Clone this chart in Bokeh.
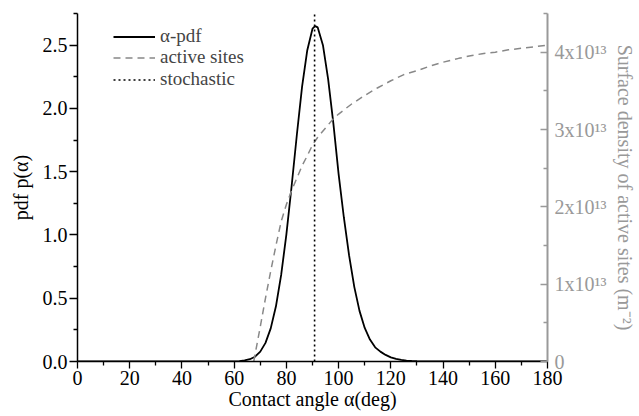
from bokeh.plotting import figure
from bokeh.models import Range1d, LinearAxis, FixedTicker, Legend, LegendItem
from bokeh.embed import file_html
from bokeh.resources import INLINE

# ---- data ----
# contact angle (deg) and alpha-pdf p(alpha)
angle_pdf = [0, 58, 60, 62, 64, 66, 68, 70, 72, 74, 76, 78, 80, 82, 84, 86, 88, 90, 91,
             92, 94, 96, 98, 100, 102, 104, 106, 108, 110, 112, 114, 116, 118, 120,
             122, 124, 126, 128, 130, 134, 140, 180]
pdf = [0, 0, 0.001, 0.003, 0.008, 0.018, 0.038, 0.078, 0.147, 0.262, 0.436, 0.684,
       1.005, 1.385, 1.79, 2.17, 2.46, 2.63, 2.65,
       2.64, 2.50, 2.23, 1.88, 1.48, 1.14, 0.84, 0.59, 0.40, 0.265, 0.173, 0.112,
       0.078, 0.052, 0.033, 0.020, 0.012, 0.007, 0.004, 0.002, 0.0006, 0, 0]

# contact angle (deg) and surface density of active sites (x 1e13 m^-2)
angle_sites = [67.5, 70, 72, 74, 76, 78, 80, 82, 84, 86, 88, 90, 92, 95, 98, 100,
               105, 110, 115, 120, 125, 130, 135, 140, 146, 150, 155, 160, 165, 170,
               175, 180]
sites = [0, 0.45, 0.82, 1.17, 1.50, 1.81, 2.03, 2.21, 2.37, 2.53, 2.66, 2.80, 2.90,
         3.02, 3.14, 3.20, 3.33, 3.44, 3.54, 3.63, 3.71, 3.76, 3.82, 3.87, 3.92,
         3.95, 3.98, 4.00, 4.03, 4.05, 4.07, 4.09]

# stochastic (single) contact angle
stochastic_angle = [90.8, 90.8]
stochastic_pdf = [0, 2.75]

x_ticks = [0, 20, 40, 60, 80, 100, 120, 140, 160, 180]
x_minor = [10, 30, 50, 70, 90, 110, 130, 150, 170]
y_ticks = [0.0, 0.5, 1.0, 1.5, 2.0, 2.5]
y_minor = [0.25, 0.75, 1.25, 1.75, 2.25, 2.75]
y2_ticks = [0, 1, 2, 3, 4]
y2_minor = [0.5, 1.5, 2.5, 3.5, 4.5]
y2_labels = {0: "0", 1: "1x10¹³", 2: "2x10¹³", 3: "3x10¹³", 4: "4x10¹³"}
legend_labels = ["α-pdf", "active sites", "stochastic"]

FONT = "'Liberation Serif', serif"
GRAY = "#999999"
FS = "20px"

p = figure(width=639, height=416, output_backend="svg", toolbar_location=None,
           x_range=Range1d(0, 180), y_range=Range1d(0, 2.75),
           min_border_left=77, min_border_right=88, min_border_top=13,
           min_border_bottom=55)
p.outline_line_color = None
p.grid.visible = False
p.background_fill_color = "white"
p.border_fill_color = "white"

p.extra_y_ranges = {"sites": Range1d(0, 4.5)}

r_pdf = p.line(angle_pdf, pdf, line_color="black", line_width=1.8)
r_sites = p.line(angle_sites, sites, line_color="#888888", line_width=1.5,
                 line_dash="7 5", y_range_name="sites")
r_sto = p.line(stochastic_angle, stochastic_pdf, line_color="black", line_width=1.6,
               line_dash="2 3")

def style_axis(ax, color, tick_in, tick_out, minor_in, minor_out, standoff):
    ax.axis_line_color = color
    ax.axis_line_width = 1.5
    ax.major_tick_line_color = color
    ax.minor_tick_line_color = color
    ax.major_tick_line_width = 1.3
    ax.minor_tick_line_width = 1.3
    ax.major_tick_in = tick_in
    ax.major_tick_out = tick_out
    ax.minor_tick_in = minor_in
    ax.minor_tick_out = minor_out
    ax.major_label_text_font = FONT
    ax.major_label_text_font_size = FS
    ax.major_label_text_color = color
    ax.major_label_standoff = standoff
    ax.axis_label_text_font = FONT
    ax.axis_label_text_font_size = FS
    ax.axis_label_text_font_style = "normal"
    ax.axis_label_text_color = color

xa = p.xaxis[0]
xa.ticker = FixedTicker(ticks=x_ticks, minor_ticks=x_minor)
xa.axis_label = "Contact angle α(deg)"
style_axis(xa, "black", 0, 7, 0, 4, 2)
xa.axis_label_standoff = 0

ya = p.yaxis[0]
ya.ticker = FixedTicker(ticks=y_ticks, minor_ticks=y_minor)
ya.formatter.use_scientific = False
ya.major_label_overrides = {v: f"{v:.1f}" for v in y_ticks}
ya.axis_label = "pdf p(α)"
style_axis(ya, "black", 0, 8, 0, 4, 2)
ya.axis_label_standoff = 8

y2 = LinearAxis(y_range_name="sites")
y2.ticker = FixedTicker(ticks=y2_ticks, minor_ticks=y2_minor)
y2.major_label_overrides = y2_labels
y2.axis_label = "Surface density of active sites (m⁻²)"
style_axis(y2, GRAY, 7, 0, 4, 0, 7)
y2.axis_line_width = 2
y2.axis_label_standoff = 5
p.add_layout(y2, "right")

renderers = [r_pdf, r_sites, r_sto]
legend_bottoms = [314, 293, 271]
for lab, rend, yb in zip(legend_labels, renderers, legend_bottoms):
    lg = Legend(items=[LegendItem(label=lab, renderers=[rend])], location=(36, yb))
    lg.border_line_color = None
    lg.background_fill_alpha = 0
    lg.padding = 0
    lg.margin = 0
    lg.spacing = 0
    lg.glyph_width = 42
    lg.glyph_height = 19
    lg.label_height = 19
    lg.label_standoff = 5
    lg.label_text_font = FONT
    lg.label_text_font_size = "19px"
    lg.label_text_baseline = "middle"
    p.add_layout(lg)

open("out.html", "w").write(file_html(p, INLINE))
